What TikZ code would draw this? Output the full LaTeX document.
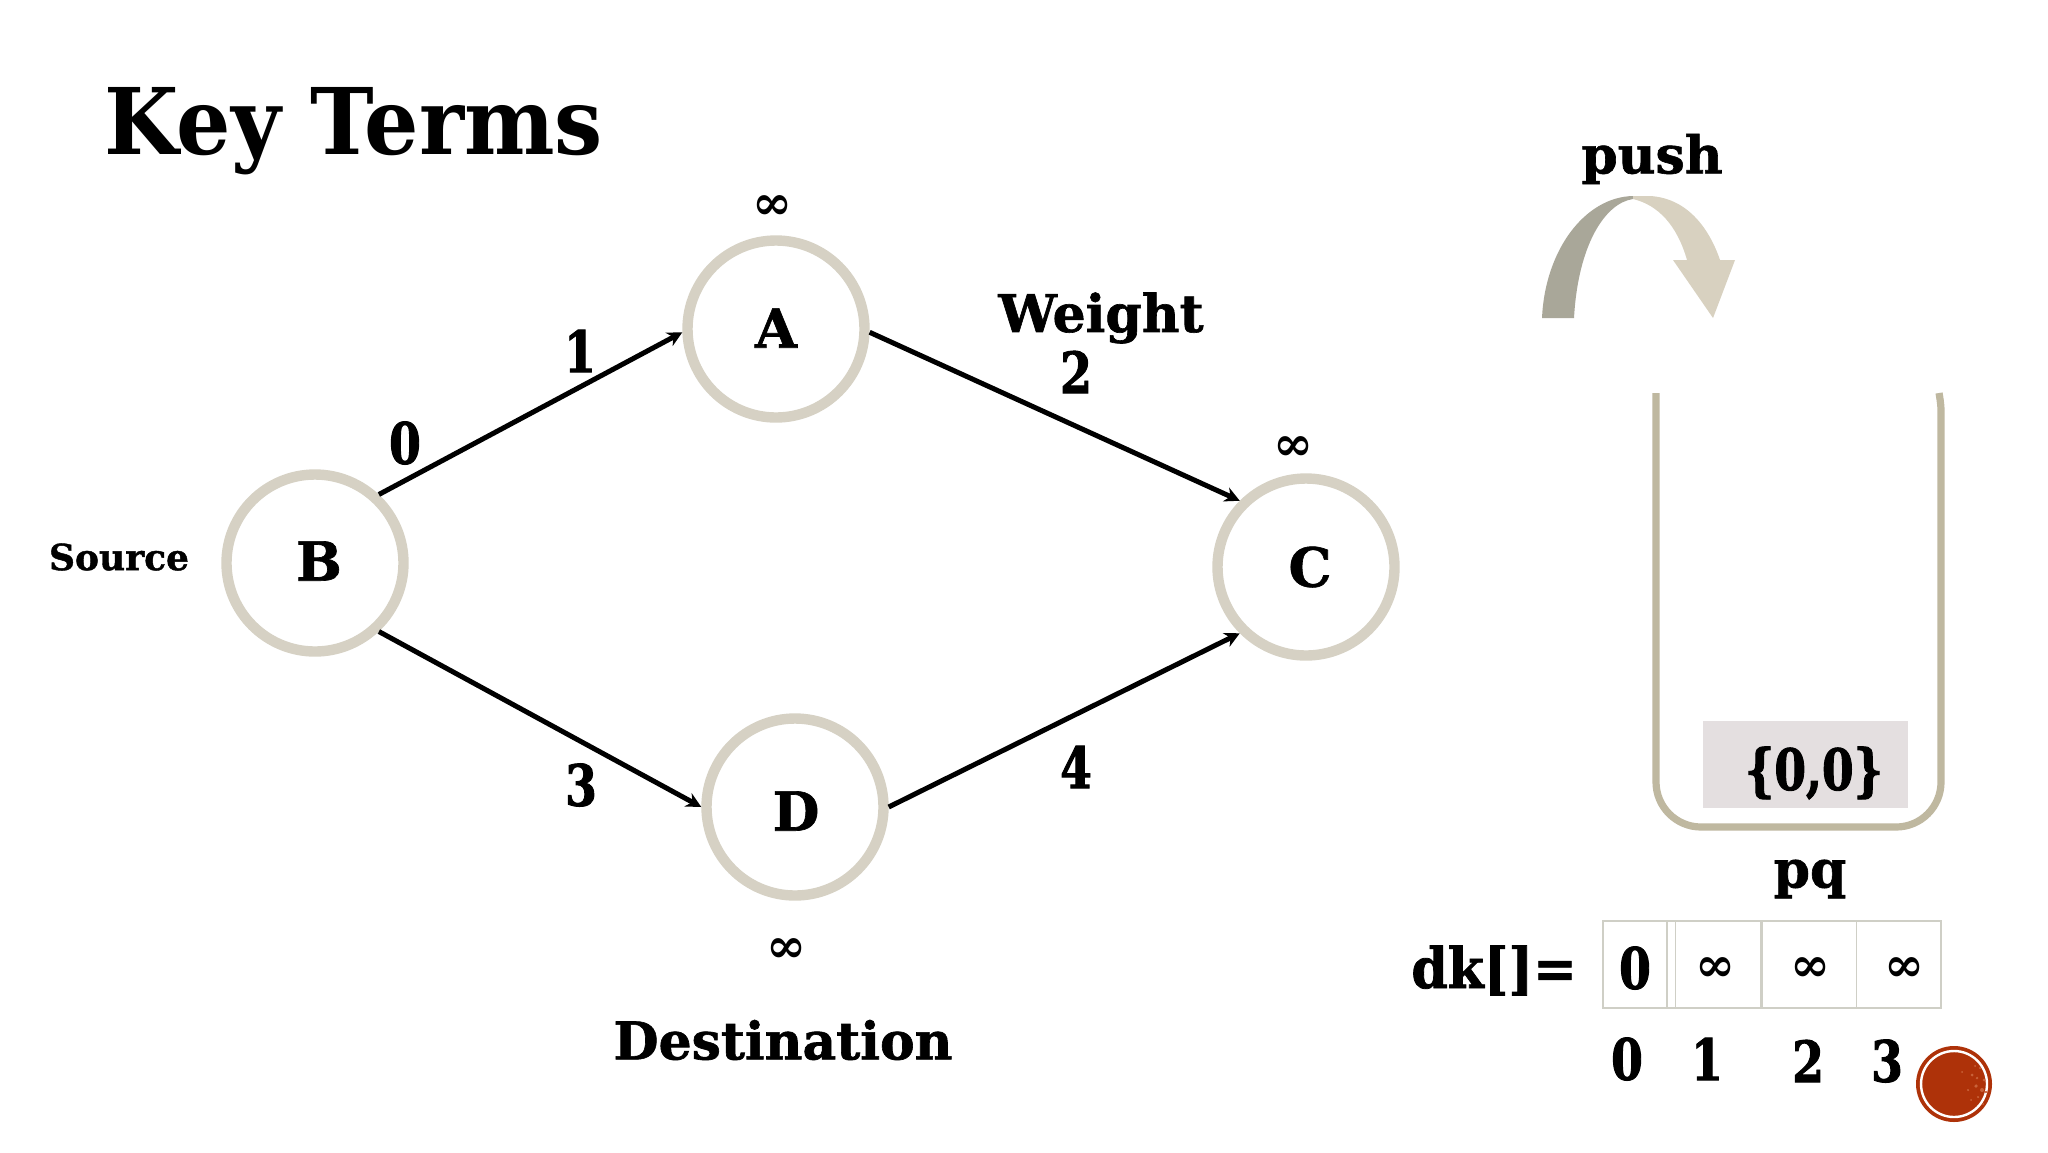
\documentclass[tikz,border=0pt]{standalone}
\usepackage{fontspec}
\setmainfont{DejaVu Serif}
\newfontfamily\titlefont[FakeStretch=0.93]{DejaVu Serif Bold}
\newfontfamily\labelfont[RawFeature={embolden=1.2}]{DejaVu Serif Bold}
\newfontfamily\digitfont[FakeStretch=0.8,RawFeature={embolden=1.6}]{DejaVu Serif Bold}
\newfontfamily\dkfont[FakeStretch=0.93,RawFeature={embolden=1.4}]{DejaVu Serif Bold}
\newfontfamily\inffont{DejaVu Serif Bold}
\usetikzlibrary{arrows.meta}
\definecolor{ringcol}{HTML}{D6D1C4}
\definecolor{jarcol}{HTML}{BFB8A0}
\definecolor{itemcol}{HTML}{E4DFE0}
\definecolor{cellcol}{HTML}{CFCFC6}
\definecolor{darkarc}{HTML}{A9A799}
\definecolor{lightarc}{HTML}{D8D1C0}
\definecolor{dotred}{HTML}{AE3209}
\definecolor{dotlight}{HTML}{C9633A}
\tikzset{
  vertex/.style={circle,draw=ringcol,line width=5.2pt,minimum size=88.5pt,inner sep=0pt,fill=white},
  edgearrow/.style={line width=2.5pt,-{Stealth[length=7.5pt,width=7.5pt]}},
  big/.style={font=\digitfont\fontsize{28.5}{28.5}\selectfont,inner sep=0pt},
  mid/.style={font=\labelfont\fontsize{26}{26}\selectfont,inner sep=0pt},
  inf/.style={font=\inffont\fontsize{24}{24}\selectfont,inner sep=0pt},
  vlabel/.style={font=\labelfont\fontsize{27}{27}\selectfont,inner sep=0pt},
  cell/.style={draw=cellcol,line width=0.6pt}
}
\begin{document}
\begin{tikzpicture}[x=0.5pt,y=-0.5pt]
\useasboundingbox (0,0) rectangle (2048,1152);
\fill[white] (0,0) rectangle (2048,1152);
% title
\node[anchor=base west,inner sep=0pt,font=\titlefont\fontsize{46}{46}\selectfont] (title) at (104,154) {Key Terms};
% graph
\node[vertex] (A) at (776,329) {};
\node[vertex] (B) at (315,563) {};
\node[vertex] (C) at (1306,567) {};
\node[vertex] (D) at (795,807) {};
\node[vlabel] (tA) at (776,328) {A};
\node[vlabel] (tB) at (319,561) {B};
\node[vlabel] (tC) at (1310,567) {C};
\node[vlabel] (tD) at (796,811) {D};
\draw[edgearrow] (B.47) -- (A.182);
\draw[edgearrow] (A.-2) -- (C.135);
\draw[edgearrow] (B.-47) -- (D.180);
\draw[edgearrow] (D.0) -- (C.225);
\node[inf] (infA) at (772,208) {∞};
\node[inf] (infC) at (1293,449) {∞};
\node[inf] (infD) at (786,951) {∞};
\node[big] (w0) at (405,443) {0};
\node[big] (w1) at (580,351) {1};
\node[mid] (weight) at (1101,318) {Weight};
\node[big] (w2) at (1076,372) {2};
\node[big] (w3) at (581,785) {3};
\node[big] (w4) at (1076,767) {4};
\node[font=\labelfont\fontsize{18}{18}\selectfont,inner sep=0pt] (source) at (119,557) {Source};
\node[mid] (dest) at (783,1040) {Destination};
% push arrow
\fill[darkarc] (1542,318) .. controls (1545,250) and (1585,197) .. (1633,196) -- (1633,199)
  .. controls (1605,203) and (1578,245) .. (1574,318) -- cycle;
\fill[lightarc] (1633,196) -- (1650,196) .. controls (1685,198) and (1708,225) .. (1720,260)
  -- (1735,260) -- (1713,318) -- (1673,260) -- (1687,260)
  .. controls (1677,225) and (1658,205) .. (1633,199) -- cycle;
\node[mid] (push) at (1652,159) {push};
% jar
\draw[jarcol,line width=3.6pt] (1656,393) .. controls (1656,397) .. (1656,420) -- (1656,782)
  arc[start angle=180,end angle=90,radius=45] -- (1896,827)
  arc[start angle=90,end angle=0,radius=45] -- (1941,420) .. controls (1941,405) .. (1939,393);
\fill[itemcol] (1703,721) rectangle (1908,808);
\node[big] (item) at (1814,773) {\{0,0\}};
\node[mid] (pq) at (1810,879) {pq};
% array
\draw[cell] (1603,921) rectangle (1941,1008);
\foreach \xx in {1667,1675.5,1761,1762.5,1856.5} \draw[cell] (\xx,921) -- (\xx,1008);
\node[anchor=base west,inner sep=0pt,font=\dkfont\fontsize{28}{28}\selectfont] (dk) at (1411,988) {dk[]=};
\node[big] (c0) at (1635,968) {0};
\node[inf] (c1) at (1715,970) {∞};
\node[inf] (c2) at (1810,970) {∞};
\node[inf] (c3) at (1904,970) {∞};
\node[big] (i0) at (1627,1059) {0};
\node[big] (i1) at (1707,1059) {1};
\node[big] (i2) at (1808,1061) {2};
\node[big] (i3) at (1887,1061) {3};
% page dot
\fill[dotred] (1954,1084) circle[radius=38];
\draw[white,line width=1.2pt] (1954,1084) circle[radius=33];
\foreach \px/\py/\pr in {1972/1075/1.5,1980/1068/1.2,1976/1086/1.8,1968/1090/1.2,1984/1080/1.5,1978/1097/1.2,1986/1092/1.4,1962/1072/1,1971/1100/1,1983/1104/1,1975/1066/1,1982/1090/2,1977/1078/1.3}
  \fill[dotlight] (\px,\py) circle[radius=\pr];
\end{tikzpicture}
\end{document}
